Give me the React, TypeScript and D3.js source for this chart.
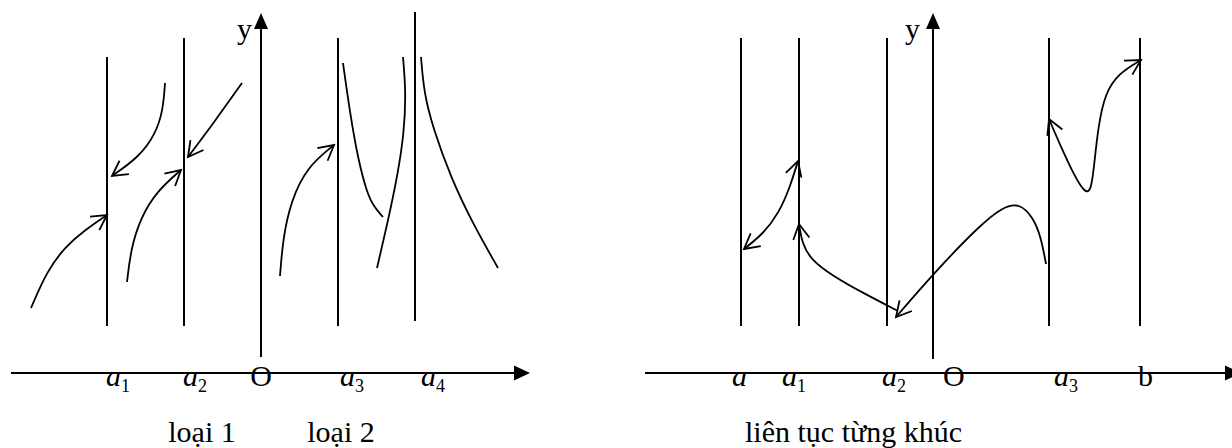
import { useEffect, useRef } from "react";
import * as d3 from "d3";

type Pt = [number, number];

const W = 1232;
const H = 448;
const FONT = "'Times New Roman', 'Liberation Serif', serif";

//
// ---------- Data (offsets from the origin O, y pointing up) ----------
//

// Left panel: "loại 1" / "loại 2"
const LEFT_ASYM_X = [-154, -77, 77, 154];
const LEFT_ASYM_TOP = [316, 335, 335, 361];
const LEFT_ASYM_BOTTOM = [47, 47, 47, 52];
const LEFT_TICK_X = [-155, -78, 79, 160];
const LEFT_TICK_MAIN = ["a", "a", "a", "a"];
const LEFT_TICK_SUB = ["1", "2", "3", "4"];
const LEFT_CAPTIONS = ["loại 1", "loại 2"];
const LEFT_CAPTION_X = [-59, 80];

const LEFT_CURVES: { pts: Pt[]; start: boolean; end: boolean }[] = [
  { pts: [[-230, 65], [-214, 102], [-196, 126], [-176, 143], [-154, 158]], start: false, end: true },
  { pts: [[-96, 290], [-98, 262], [-106, 238], [-122, 216], [-149, 197]], start: false, end: true },
  { pts: [[-134, 91], [-130, 125], [-120, 156], [-104, 182], [-80, 203]], start: false, end: true },
  { pts: [[-19, 290], [-46, 252], [-73, 216]], start: false, end: true },
  { pts: [[19, 97], [22, 135], [30, 172], [46, 206], [73, 228]], start: false, end: true },
  { pts: [[82, 310], [89, 260], [97, 214], [106, 180], [113, 166], [122, 156]], start: false, end: false },
  { pts: [[142, 316], [145, 280], [143, 240], [137, 200], [127, 152], [116, 105]], start: false, end: false },
  { pts: [[160, 316], [163, 280], [172, 245], [190, 195], [212, 149], [237, 105]], start: false, end: false },
];

// Right panel: "liên tục từng khúc"
const RIGHT_ASYM_X = [-192, -134, -46, 116, 207];
const RIGHT_ASYM_TOP = [335, 335, 335, 335, 335];
const RIGHT_ASYM_BOTTOM = [47, 47, 47, 47, 47];
const RIGHT_TICK_X = [-201, -151, -51, 121, 205];
const RIGHT_TICK_MAIN = ["a", "a", "a", "a", "b"];
const RIGHT_TICK_SUB = ["", "1", "2", "3", ""];
const RIGHT_TICK_ITALIC = [true, true, true, true, false];
const RIGHT_CAPTIONS = ["liên tục từng khúc"];
const RIGHT_CAPTION_X = [-188];

const RIGHT_CURVES: { pts: Pt[]; start: boolean; end: boolean }[] = [
  { pts: [[-189, 124], [-170, 139], [-154, 160], [-143, 186], [-135, 212]], start: true, end: true },
  { pts: [[-134, 149], [-131, 130], [-122, 113], [-100, 97], [-70, 80], [-35, 62]], start: true, end: false },
  { pts: [[-37, 56], [0, 99], [48, 149], [70, 166], [86, 170], [100, 156], [108, 136], [113, 109]], start: true, end: false },
  { pts: [[116, 254], [128, 226], [142, 196], [152, 180], [158, 182], [161, 206], [165, 245], [172, 280], [186, 300], [208, 313]], start: true, end: true },
];

//
// ---------- Helpers ----------
//

type Panel = {
  ox: number;
  oy: number;
  xFrom: number;
  xTo: number;
  yFrom: number;
  yTo: number;
  oLabelX: number;
  oAnchor: string;
  yLabelX: number;
  asymX: number[];
  asymTop: number[];
  asymBottom: number[];
  tickX: number[];
  tickMain: string[];
  tickSub: string[];
  tickItalic: boolean[];
  captions: string[];
  captionX: number[];
  captionAnchor: string;
  curves: { pts: Pt[]; start: boolean; end: boolean }[];
};

const WING = 17;
const HALF = 0.5;

function drawArrowHead(
  g: d3.Selection<SVGGElement, unknown, null, undefined>,
  node: SVGPathElement,
  atEnd: boolean
) {
  const L = node.getTotalLength();
  const tip = node.getPointAtLength(atEnd ? L : 0);
  const back = node.getPointAtLength(atEnd ? Math.max(0, L - 5) : Math.min(L, 5));
  const ang = Math.atan2(tip.y - back.y, tip.x - back.x);
  const pts = [-1, 1].map((s) => {
    const a = ang + Math.PI + s * HALF;
    return [tip.x + WING * Math.cos(a), tip.y + WING * Math.sin(a)];
  });
  g.append("path")
    .attr("d", `M${pts[0][0]},${pts[0][1]}L${tip.x},${tip.y}L${pts[1][0]},${pts[1][1]}`)
    .attr("fill", "none")
    .attr("stroke", "#000")
    .attr("stroke-width", 1.8)
    .attr("stroke-linejoin", "miter");
}

function drawPanel(svg: d3.Selection<SVGSVGElement, unknown, null, undefined>, p: Panel) {
  const x = d3.scaleLinear().domain([0, 100]).range([p.ox, p.ox + 100]);
  const y = d3.scaleLinear().domain([0, 100]).range([p.oy, p.oy - 100]);
  const g = svg.append("g");

  // x axis with filled arrow
  g.append("line")
    .attr("x1", x(p.xFrom)).attr("x2", x(p.xTo) - 10)
    .attr("y1", y(0)).attr("y2", y(0))
    .attr("stroke", "#000").attr("stroke-width", 2);
  g.append("path")
    .attr("d", `M${x(p.xTo)},${y(0)}L${x(p.xTo) - 16},${y(0) - 7.5}L${x(p.xTo) - 16},${y(0) + 7.5}Z`)
    .attr("fill", "#000");

  // y axis with filled arrow
  g.append("line")
    .attr("x1", x(0)).attr("x2", x(0))
    .attr("y1", y(p.yFrom)).attr("y2", y(p.yTo) + 10)
    .attr("stroke", "#000").attr("stroke-width", 2);
  g.append("path")
    .attr("d", `M${x(0)},${y(p.yTo)}L${x(0) - 7},${y(p.yTo) + 16}L${x(0) + 7},${y(p.yTo) + 16}Z`)
    .attr("fill", "#000");

  g.append("text")
    .attr("x", x(p.yLabelX)).attr("y", y(334))
    .attr("font-family", FONT).attr("font-size", 30)
    .text("y");

  // vertical asymptotes
  p.asymX.forEach((ax, i) => {
    g.append("line")
      .attr("x1", x(ax)).attr("x2", x(ax))
      .attr("y1", y(p.asymBottom[i])).attr("y2", y(p.asymTop[i]))
      .attr("stroke", "#000").attr("stroke-width", 2);
  });

  // tick labels a_i
  p.tickX.forEach((tx, i) => {
    const t = g.append("text")
      .attr("x", x(tx)).attr("y", y(-13))
      .attr("font-family", FONT).attr("font-size", 30);
    t.append("tspan")
      .attr("font-style", p.tickItalic[i] ? "italic" : "normal")
      .text(p.tickMain[i]);
    if (p.tickSub[i]) {
      t.append("tspan").attr("font-size", 18).attr("dy", 6).text(p.tickSub[i]);
    }
  });

  g.append("text")
    .attr("x", x(p.oLabelX)).attr("y", y(-13))
    .attr("text-anchor", p.oAnchor)
    .attr("font-family", FONT).attr("font-size", 30)
    .text("O");

  // captions
  p.captions.forEach((c, i) => {
    g.append("text")
      .attr("x", x(p.captionX[i])).attr("y", y(-69))
      .attr("text-anchor", p.captionAnchor)
      .attr("font-family", FONT).attr("font-size", 30)
      .text(c);
  });

  // curves
  const line = d3
    .line<Pt>()
    .x((d) => x(d[0]))
    .y((d) => y(d[1]))
    .curve(d3.curveBasis);
  p.curves.forEach((c) => {
    const path = g.append("path")
      .attr("d", line(c.pts) ?? "")
      .attr("fill", "none")
      .attr("stroke", "#000")
      .attr("stroke-width", 1.8);
    const node = path.node() as SVGPathElement;
    if (c.end) drawArrowHead(g, node, true);
    if (c.start) drawArrowHead(g, node, false);
  });
}

//
// ---------- Main Component ----------
//

export default function App() {
  const svgRef = useRef<SVGSVGElement | null>(null);

  useEffect(() => {
    if (!svgRef.current) return;
    const svg = d3.select(svgRef.current);
    svg.selectAll("*").remove();

    drawPanel(svg, {
      ox: 261, oy: 373,
      xFrom: -250, xTo: 269, yFrom: 16, yTo: 360,
      oLabelX: 0, oAnchor: "middle", yLabelX: -24,
      asymX: LEFT_ASYM_X, asymTop: LEFT_ASYM_TOP, asymBottom: LEFT_ASYM_BOTTOM,
      tickX: LEFT_TICK_X, tickMain: LEFT_TICK_MAIN, tickSub: LEFT_TICK_SUB,
      tickItalic: LEFT_TICK_MAIN.map(() => true),
      captions: LEFT_CAPTIONS, captionX: LEFT_CAPTION_X, captionAnchor: "middle",
      curves: LEFT_CURVES,
    });

    drawPanel(svg, {
      ox: 933, oy: 373,
      xFrom: -288, xTo: 308, yFrom: 14, yTo: 360,
      oLabelX: 10, oAnchor: "start", yLabelX: -28,
      asymX: RIGHT_ASYM_X, asymTop: RIGHT_ASYM_TOP, asymBottom: RIGHT_ASYM_BOTTOM,
      tickX: RIGHT_TICK_X, tickMain: RIGHT_TICK_MAIN, tickSub: RIGHT_TICK_SUB,
      tickItalic: RIGHT_TICK_ITALIC,
      captions: RIGHT_CAPTIONS, captionX: RIGHT_CAPTION_X, captionAnchor: "start",
      curves: RIGHT_CURVES,
    });
  }, []);

  return (
    <svg
      ref={svgRef}
      width={W}
      height={H}
      style={{ position: "absolute", left: 0, top: 0, background: "#fff" }}
    />
  );
}
